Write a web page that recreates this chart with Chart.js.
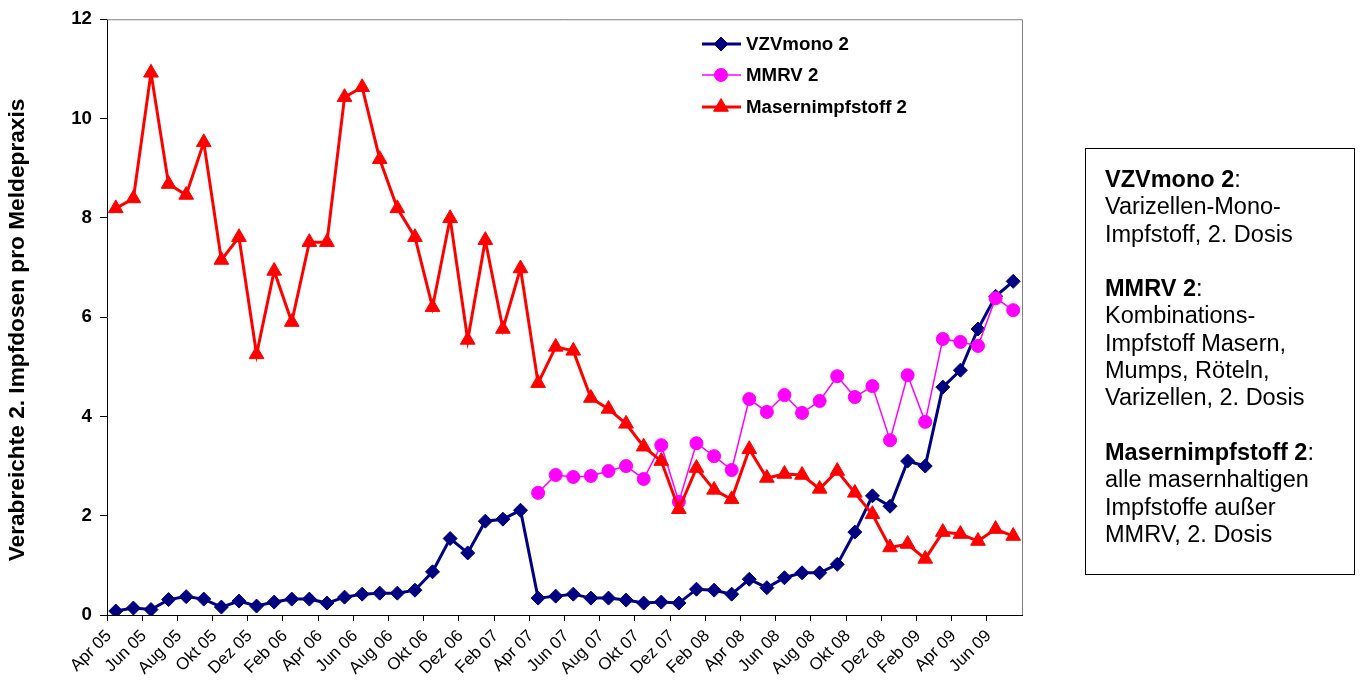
<!DOCTYPE html>
<html>
<head>
<meta charset="utf-8">
<script src="https://cdn.jsdelivr.net/npm/chart.js@4.4.1/dist/chart.umd.min.js"></script>
<style>
  body { margin: 0; background: #fff; }
  #wrap { position: relative; width: 1362px; height: 690px; }
  #note {
    position: absolute; left: 1085px; top: 148px; width: 270px; height: 427px;
    box-sizing: border-box; border: 1px solid #000;
    padding: 17px 0 0 19px;
    font: 23.5px "Liberation Sans", Arial, sans-serif; line-height: 27.3px; color: #000;
  }
  #note b { font-weight: bold; }
</style>
</head>
<body>
<div id="wrap">
  <canvas id="chart" width="1362" height="690"></canvas>
  <div id="note">
    <b>VZVmono 2</b>:<br>Varizellen-Mono-<br>Impfstoff, 2. Dosis<br><br>
    <b>MMRV 2</b>:<br>Kombinations-<br>Impfstoff Masern,<br>Mumps, Röteln,<br>Varizellen, 2. Dosis<br><br>
    <b>Masernimpfstoff 2</b>:<br>alle masernhaltigen<br>Impfstoffe außer<br>MMRV, 2. Dosis
  </div>
</div>
<script>
// months Apr 05 .. Jul 09
const months = [
  'Apr 05', 'Mai 05', 'Jun 05', 'Jul 05', 'Aug 05', 'Sep 05', 'Okt 05', 'Nov 05', 'Dez 05',
  'Jan 06', 'Feb 06', 'Mrz 06', 'Apr 06', 'Mai 06', 'Jun 06', 'Jul 06', 'Aug 06', 'Sep 06', 'Okt 06', 'Nov 06', 'Dez 06',
  'Jan 07', 'Feb 07', 'Mrz 07', 'Apr 07', 'Mai 07', 'Jun 07', 'Jul 07', 'Aug 07', 'Sep 07', 'Okt 07', 'Nov 07', 'Dez 07',
  'Jan 08', 'Feb 08', 'Mrz 08', 'Apr 08', 'Mai 08', 'Jun 08', 'Jul 08', 'Aug 08', 'Sep 08', 'Okt 08', 'Nov 08', 'Dez 08',
  'Jan 09', 'Feb 09', 'Mrz 09', 'Apr 09', 'Mai 09', 'Jun 09', 'Jul 09'
];

const vzvMono = [
  0.08, 0.14, 0.11, 0.31, 0.37, 0.32, 0.16, 0.28, 0.18, 0.26, 0.32, 0.32, 0.24, 0.36, 0.42, 0.44, 0.44, 0.5,
  0.87, 1.54, 1.25, 1.89, 1.93, 2.11,
  0.34, 0.38, 0.42, 0.34, 0.34, 0.3, 0.24, 0.26, 0.24, 0.52, 0.5, 0.42, 0.72,
  0.55, 0.75, 0.85, 0.85, 1.02,
  1.67, 2.4, 2.19, 3.1, 3.0, 4.59, 4.93, 5.76, 6.42, 6.72
];

// MMRV only reported from Apr 07 on
const mmrv = [
  null, null, null, null, null, null, null, null, null, null, null, null,
  null, null, null, null, null, null, null, null, null, null, null, null,
  2.46, 2.82, 2.78, 2.8, 2.9, 3.0, 2.74, 3.42, 2.28, 3.46, 3.2, 2.92,
  4.35, 4.09, 4.43, 4.07, 4.31, 4.81, 4.39, 4.61, 3.52, 4.83, 3.89, 5.56,
  5.5, 5.42, 6.38, 6.14
];

const masern = [
  8.19, 8.39, 10.92, 8.68, 8.46, 9.52, 7.15, 7.61, 5.25, 6.93,
  5.9, 7.51, 7.51, 10.43, 10.63, 9.18, 8.19, 7.61, 6.2, 7.99,
  5.54, 7.55, 5.76, 6.98, 4.67, 5.4, 5.32, 4.37, 4.15, 3.85,
  3.39, 3.1, 2.13, 2.96, 2.52, 2.33, 3.34, 2.76, 2.84, 2.82,
  2.54, 2.9, 2.46, 2.03, 1.36, 1.43, 1.13, 1.67, 1.63, 1.49,
  1.73, 1.59
];

const yTicks = [0, 2, 4, 6, 8, 10, 12];
const yTitle = 'Verabreichte 2. Impfdosen pro Meldepraxis';

const FONT = '"Liberation Sans", Arial, sans-serif';

const series = [
  { label: 'VZVmono 2', data: vzvMono, color: '#000080', style: 'rectRot', radius: 7, width: 3, order: 2 },
  { label: 'MMRV 2', data: mmrv, color: '#FF00FF', style: 'circle', radius: 6.5, width: 1.5, order: 1 },
  { label: 'Masernimpfstoff 2', data: masern, color: '#FF0000', style: 'triangle', radius: 8.5, width: 3, order: 0 }
];

// grey frame on top and right of the plot area + rotated y title
const framePlugin = {
  id: 'frame',
  beforeDatasetsDraw(chart) {
    const { ctx, chartArea: a } = chart;
    ctx.save();
    ctx.strokeStyle = '#808080';
    ctx.lineWidth = 1;
    ctx.beginPath();
    ctx.moveTo(a.left, a.top + 0.5);
    ctx.lineTo(a.right + 0.5, a.top + 0.5);
    ctx.lineTo(a.right + 0.5, a.bottom);
    ctx.stroke();
    ctx.restore();
  },
  afterDraw(chart) {
    const ctx = chart.ctx;
    ctx.save();
    ctx.translate(18, 330);
    ctx.rotate(-Math.PI / 2);
    ctx.font = 'bold 22.7px ' + FONT;
    ctx.fillStyle = '#000';
    ctx.textAlign = 'center';
    ctx.textBaseline = 'middle';
    ctx.fillText(yTitle, 0, 0);
    ctx.restore();
  }
};

// legend inside the plot: line + marker + label
const legendPlugin = {
  id: 'innerLegend',
  afterDraw(chart) {
    const ctx = chart.ctx;
    const rows = [44, 75, 107];
    ctx.save();
    series.forEach((s, i) => {
      const y = rows[i];
      ctx.strokeStyle = s.color;
      ctx.lineWidth = s.width;
      ctx.beginPath();
      ctx.moveTo(702, y);
      ctx.lineTo(741, y);
      ctx.stroke();
      ctx.fillStyle = s.color;
      ctx.strokeStyle = s.color;
      ctx.lineWidth = 1;
      Chart.helpers.drawPoint(ctx, { pointStyle: s.style, radius: s.radius, rotation: 0, borderWidth: 1 }, 721, y);
      ctx.fillStyle = '#000';
      ctx.font = 'bold 18.7px ' + FONT;
      ctx.textAlign = 'left';
      ctx.textBaseline = 'middle';
      ctx.fillText(s.label, 746, y + 1);
    });
    ctx.restore();
  }
};

new Chart(document.getElementById('chart').getContext('2d'), {
  type: 'line',
  data: {
    labels: months,
    datasets: series.map(s => ({
      label: s.label,
      data: s.data,
      order: s.order,
      borderColor: s.color,
      backgroundColor: s.color,
      borderWidth: s.width,
      pointStyle: s.style,
      pointRadius: s.radius,
      pointBorderWidth: 1,
      pointBackgroundColor: s.color,
      pointBorderColor: s.color,
      tension: 0,
      spanGaps: false
    }))
  },
  options: {
    responsive: false,
    animation: false,
    devicePixelRatio: 1,
    layout: { padding: { left: 0, top: 19, right: 340, bottom: 0 } },
    plugins: {
      legend: { display: false },
      tooltip: { enabled: false }
    },
    scales: {
      x: {
        type: 'category',
        offset: true,
        grid: {
          offset: true,
          drawOnChartArea: false,
          drawTicks: true,
          tickLength: 6,
          tickColor: ctx => (ctx.index % 2 === 0 ? '#000' : 'rgba(0,0,0,0)')
        },
        border: { color: '#000', width: 1 },
        ticks: {
          autoSkip: false,
          minRotation: 45,
          maxRotation: 45,
          padding: 5,
          labelOffset: -7,
          color: '#000',
          font: { family: FONT, size: 17 },
          callback: function (value, index) {
            return index % 2 === 0 ? this.getLabelForValue(value) : '';
          }
        },
        afterFit: scale => { scale.height = 75; scale.paddingLeft = 0; scale.paddingRight = 0; }
      },
      y: {
        min: 0,
        max: 12,
        afterBuildTicks: scale => { scale.ticks = yTicks.map(v => ({ value: v })); },
        grid: { drawOnChartArea: false, tickLength: 7, tickColor: '#000' },
        border: { color: '#000', width: 1 },
        ticks: {
          padding: 8,
          color: '#000',
          font: { family: FONT, size: 18.7, weight: 'bold' }
        },
        afterFit: scale => { scale.width = 107; }
      }
    }
  },
  plugins: [framePlugin, legendPlugin]
});
</script>
</body>
</html>
